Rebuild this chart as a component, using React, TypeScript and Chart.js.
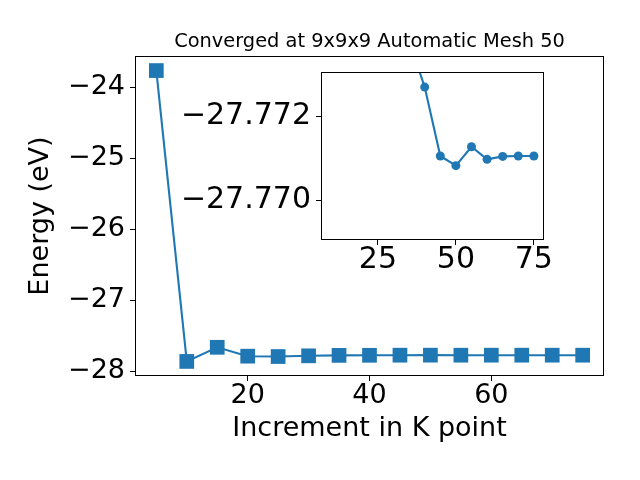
import React, { useEffect, useRef } from 'react';
import { Chart, registerables } from 'chart.js';

Chart.register(...registerables);

// ---- data ----
const kPoints = [5, 10, 15, 20, 25, 30, 35, 40, 45, 50, 55, 60, 65, 70, 75];
const energies = [
  -23.765, -27.859, -27.66, -27.785, -27.79, -27.78, -27.7738, -27.7727,
  -27.77106, -27.77083, -27.77128, -27.77098, -27.77105, -27.77106, -27.77106,
];
const insetStartIndex = 6; // inset shows the tail of the same series (k >= 35)
const mainXTicks = [20, 40, 60];
const mainYTicks = [-28, -27, -26, -25, -24];
const insetXTicks = [25, 50, 75];
const insetYTicks = [-27.772, -27.77];
const titleText = 'Converged at 9x9x9 Automatic Mesh 50';
const xLabel = 'Increment in K point';
const yLabel = 'Energy (eV)';

const BLUE = '#1f77b4';
const FONT = 'DejaVu Sans';
const MAIN_FS = 27;
const INSET_FS = 30;

const fmt = (v: number, d: number) => (v < 0 ? '\u2212' : '') + Math.abs(v).toFixed(d);

const boxPlugin = (fillWhite: boolean) => ({
  id: 'boxFrame',
  beforeDatasetsDraw(chart: any) {
    if (!fillWhite) return;
    const { left, top, right, bottom } = chart.chartArea;
    const ctx = chart.ctx;
    ctx.save();
    ctx.fillStyle = '#fff';
    ctx.fillRect(left, top, right - left, bottom - top);
    ctx.restore();
  },
  afterDraw(chart: any) {
    const { left, top, right, bottom } = chart.chartArea;
    const ctx = chart.ctx;
    ctx.save();
    ctx.strokeStyle = '#000';
    ctx.lineWidth = 1;
    const l = Math.round(left) + 0.5;
    const t = Math.round(top) + 0.5;
    const r = Math.round(right) - 0.5;
    const b = Math.round(bottom) - 0.5;
    ctx.strokeRect(l, t, r - l, b - t);
    ctx.restore();
  },
});

const gridOpts = {
  display: true,
  drawOnChartArea: false,
  drawTicks: true,
  tickLength: 5,
  color: '#000',
  lineWidth: 1,
};

export default function App() {
  const mainRef = useRef<HTMLCanvasElement>(null);
  const insetRef = useRef<HTMLCanvasElement>(null);

  useEffect(() => {
    Chart.defaults.font.family = FONT;
    Chart.defaults.color = '#000';

    const mainData = kPoints.map((k, i) => ({ x: k, y: energies[i] }));
    const insetData = kPoints
      .slice(insetStartIndex)
      .map((k, i) => ({ x: k, y: energies[i + insetStartIndex] }));

    const main = new Chart(mainRef.current as HTMLCanvasElement, {
      type: 'line',
      data: {
        datasets: [
          {
            data: mainData,
            borderColor: BLUE,
            backgroundColor: BLUE,
            borderWidth: 2.1,
            pointStyle: 'rect',
            pointRadius: 10.4,
            pointBorderWidth: 0,
            pointBackgroundColor: BLUE,
            tension: 0,
            clip: 0,
          } as any,
        ],
      },
      options: {
        responsive: false,
        animation: false,
        devicePixelRatio: 1,
        layout: { padding: { left: 0, right: 36, top: 0, bottom: 0 } },
        plugins: {
          legend: { display: false },
          tooltip: { enabled: false },
          title: {
            display: true,
            text: titleText,
            fullSize: false,
            color: '#000',
            font: { family: FONT, size: 19.4, weight: 'normal', lineHeight: 1.2 },
            padding: { top: 30.5, bottom: 2.22 },
          },
        },
        scales: {
          x: {
            type: 'linear',
            min: 1.5,
            max: 78.5,
            afterBuildTicks: (s: any) => {
              s.ticks = mainXTicks.map((v) => ({ value: v }));
            },
            afterFit: (s: any) => {
              s.height = 104;
            },
            grid: gridOpts,
            border: { display: false },
            ticks: {
              color: '#000',
              padding: 1.4,
              maxRotation: 0,
              font: { family: FONT, size: MAIN_FS, lineHeight: 1 },
              callback: (v: any) => fmt(Number(v), 0),
            },
            title: {
              display: true,
              text: xLabel,
              color: '#000',
              font: { family: FONT, size: MAIN_FS, lineHeight: 1.2 },
              padding: { top: 0, bottom: 34.65 },
            },
          },
          y: {
            type: 'linear',
            min: -28.064,
            max: -23.56,
            afterBuildTicks: (s: any) => {
              s.ticks = mainYTicks.map((v) => ({ value: v }));
            },
            afterFit: (s: any) => {
              s.width = 135;
            },
            grid: gridOpts,
            border: { display: false },
            ticks: {
              color: '#000',
              padding: 5,
              font: { family: FONT, size: MAIN_FS, lineHeight: 1 },
              callback: (v: any) => fmt(Number(v), 0),
            },
            title: {
              display: true,
              text: yLabel,
              color: '#000',
              font: { family: FONT, size: MAIN_FS, lineHeight: 1.2 },
              padding: { top: 25.15, bottom: 0 },
            },
          },
        },
      } as any,
      plugins: [boxPlugin(false)],
    });

    const inset = new Chart(insetRef.current as HTMLCanvasElement, {
      type: 'line',
      data: {
        datasets: [
          {
            data: insetData,
            borderColor: BLUE,
            backgroundColor: BLUE,
            borderWidth: 2.1,
            pointStyle: 'circle',
            pointRadius: 4.5,
            pointBorderWidth: 0,
            pointBackgroundColor: BLUE,
            tension: 0,
            clip: 0,
          } as any,
        ],
      },
      options: {
        responsive: false,
        animation: false,
        devicePixelRatio: 1,
        layout: { padding: { left: 0, right: 96, top: 72, bottom: 0 } },
        plugins: {
          legend: { display: false },
          tooltip: { enabled: false },
          title: { display: false },
        },
        scales: {
          x: {
            type: 'linear',
            min: 6.75,
            max: 78.25,
            afterBuildTicks: (s: any) => {
              s.ticks = insetXTicks.map((v) => ({ value: v }));
            },
            afterFit: (s: any) => {
              s.height = 240;
            },
            grid: gridOpts,
            border: { display: false },
            ticks: {
              color: '#000',
              padding: 0,
              maxRotation: 0,
              font: { family: FONT, size: INSET_FS, lineHeight: 1 },
              callback: (v: any) => fmt(Number(v), 0),
            },
          },
          y: {
            type: 'linear',
            reverse: true,
            min: -27.77306,
            max: -27.76906,
            afterBuildTicks: (s: any) => {
              s.ticks = insetYTicks.map((v) => ({ value: v }));
            },
            afterFit: (s: any) => {
              s.width = 321;
            },
            grid: gridOpts,
            border: { display: false },
            ticks: {
              color: '#000',
              padding: 5,
              font: { family: FONT, size: INSET_FS, lineHeight: 1 },
              callback: (v: any) => fmt(Number(v), 3),
            },
          },
        },
      } as any,
      plugins: [boxPlugin(true)],
    });

    return () => {
      main.destroy();
      inset.destroy();
    };
  }, []);

  return (
    <div style={{ position: 'absolute', left: 0, top: 0, width: 640, height: 480, background: '#fff' }}>
      <canvas ref={mainRef} width={640} height={480} style={{ position: 'absolute', left: 0, top: 0, display: 'block' }} />
      <canvas ref={insetRef} width={640} height={480} style={{ position: 'absolute', left: 0, top: 0, display: 'block' }} />
    </div>
  );
}
